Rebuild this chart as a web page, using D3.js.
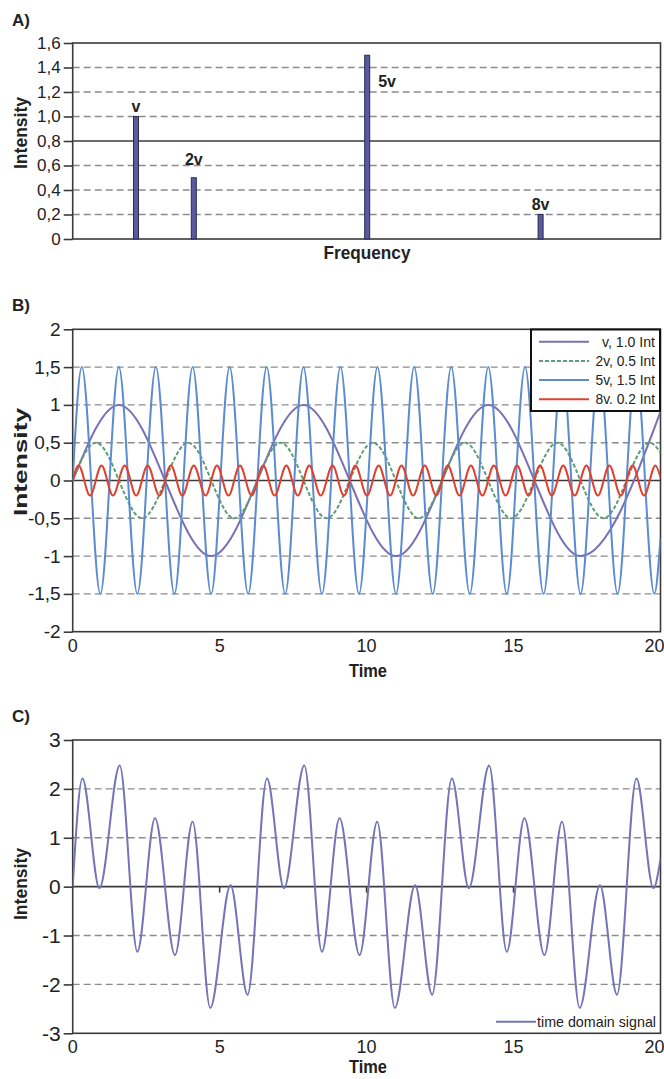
<!DOCTYPE html>
<html>
<head>
<meta charset="utf-8">
<script src="https://cdn.jsdelivr.net/npm/d3@7"></script>
<style>
  body { margin: 0; background: #fff; }
  text { font-family: "Liberation Sans", Arial, sans-serif; fill: #222; }
  .bold { font-weight: bold; }
</style>
</head>
<body>
<svg id="chart" width="664" height="1079"></svg>
<script>
// ---- A) spectrum ----
var specLabels = ["v", "2v", "5v", "8v"];
var specFreq = [1, 2, 5, 8];
var specInt = [1.0, 0.5, 1.5, 0.2];
var specTicks = [0, 0.2, 0.4, 0.6, 0.8, 1.0, 1.2, 1.4, 1.6];

// ---- B) the four components (extrema, plus both ends) ----
var compNames = ["v, 1.0 Int", "2v, 0.5 Int", "5v, 1.5 Int", "8v. 0.2 Int"];
var vT = [0, 1.57, 4.71, 7.85, 11.0, 14.14, 17.28, 20];
var vY = [0, 1, -1, 1, -1, 1, -1, 0.91];
var v2T = [0, 0.79, 2.36, 3.93, 5.5, 7.07, 8.64, 10.21, 11.78, 13.35, 14.92, 16.49, 18.06, 19.63, 20];
var v2Y = [0, .5, -.5, .5, -.5, .5, -.5, .5, -.5, .5, -.5, .5, -.5, .5, .37];
var v5T = [0, 0.31, 0.94, 1.57, 2.2, 2.83, 3.46, 4.08, 4.71, 5.34, 5.97, 6.6, 7.23, 7.85, 8.48, 9.11, 9.74,
           10.37, 11.0, 11.62, 12.25, 12.88, 13.51, 14.14, 14.77, 15.39, 16.02, 16.65, 17.28, 17.91, 18.54, 19.16, 19.79, 20];
var v5Y = [0, 1.5, -1.5, 1.5, -1.5, 1.5, -1.5, 1.5, -1.5, 1.5, -1.5, 1.5, -1.5, 1.5, -1.5, 1.5, -1.5,
           1.5, -1.5, 1.5, -1.5, 1.5, -1.5, 1.5, -1.5, 1.5, -1.5, 1.5, -1.5, 1.5, -1.5, 1.5, -1.5, -0.76];
var v8T = [0, 0.2, 0.59, 0.98, 1.37, 1.77, 2.16, 2.55, 2.95, 3.34, 3.73, 4.12, 4.52, 4.91, 5.3, 5.69, 6.09,
           6.48, 6.87, 7.27, 7.66, 8.05, 8.44, 8.84, 9.23, 9.62, 10.01, 10.41, 10.8, 11.19, 11.58, 11.98, 12.37,
           12.76, 13.16, 13.55, 13.94, 14.33, 14.73, 15.12, 15.51, 15.9, 16.3, 16.69, 17.08, 17.48, 17.87, 18.26,
           18.65, 19.05, 19.44, 19.83, 20];
var v8Y = [0, .2, -.2, .2, -.2, .2, -.2, .2, -.2, .2, -.2, .2, -.2, .2, -.2, .2, -.2,
           .2, -.2, .2, -.2, .2, -.2, .2, -.2, .2, -.2, .2, -.2, .2, -.2, .2, -.2,
           .2, -.2, .2, -.2, .2, -.2, .2, -.2, .2, -.2, .2, -.2, .2, -.2, .2,
           -.2, .2, -.2, .2, .04];

// ---- C) time domain signal (extrema read off the curve) ----
var sigT = [0, 0.33, 0.91, 1.6, 2.2, 2.8, 3.48, 4.08, 4.68, 5.37, 5.95,
            6.61, 7.19, 7.88, 8.48, 9.08, 9.76, 10.36, 10.96, 11.65, 12.23,
            12.9, 13.48, 14.17, 14.77, 15.37, 16.05, 16.65, 17.25, 17.94, 18.52,
            19.18, 19.76, 20];
var sigY = [0, 2.21, -0.03, 2.48, -1.33, 1.4, -1.4, 1.33, -2.48, 0.03, -2.21,
            2.21, -0.03, 2.48, -1.33, 1.4, -1.4, 1.33, -2.48, 0.03, -2.21,
            2.21, -0.03, 2.48, -1.33, 1.4, -1.4, 1.33, -2.48, 0.03, -2.21,
            2.21, -0.03, 0.57];

var timeTicks = [0, 5, 10, 15, 20];
var bTicks = [-2, -1.5, -1, -0.5, 0, 0.5, 1, 1.5, 2];
var cTicks = [-3, -2, -1, 0, 1, 2, 3];

var svg = d3.select("#chart");
var left = 72.7, right = 660.5;
var gridColor = "#8c8c8c", frameColor = "#3a3a3a";
var compColors = ["#7a70b4", "#5e9e72", "#5b8cd0", "#e0412f"];

function comma(d) { return String(d).replace(".", ","); }
function comma1(d) { return d === 0 ? "0" : d3.format(".1f")(d).replace(".", ","); }

function zip(ts, ys) { return ts.map(function (t, i) { return [t, ys[i]]; }); }

// frame, y ticks, grid; returns y scale
function panel(id, top, bottom, domain, ticks, fmt, solid, tickSize) {
    var y = d3.scaleLinear().domain(domain).range([bottom, top]);
    var g = svg.append("g").attr("id", id);
    ticks.forEach(function (d) {
        if (d === domain[0] || d === domain[1]) return;
        var isSolid = solid.indexOf(d) >= 0;
        g.append("line")
            .attr("x1", left).attr("x2", right)
            .attr("y1", y(d)).attr("y2", y(d))
            .attr("stroke", isSolid ? frameColor : gridColor)
            .attr("stroke-width", isSolid ? 1.6 : 1.4)
            .attr("stroke-dasharray", isSolid ? null : "7,4");
    });
    g.append("rect")
        .attr("x", left).attr("y", top)
        .attr("width", right - left).attr("height", bottom - top)
        .attr("fill", "none").attr("stroke", frameColor).attr("stroke-width", 1.6);
    var ax = g.append("g").attr("transform", "translate(" + left + ",0)")
        .call(d3.axisLeft(y).tickValues(ticks).tickFormat(fmt).tickSize(9).tickPadding(3));
    ax.select(".domain").remove();
    ax.selectAll("line").attr("stroke", frameColor).attr("stroke-width", 1.6);
    ax.selectAll("text").attr("font-size", tickSize).attr("fill", "#2a2a2a")
        .attr("font-family", "Liberation Sans, Arial, sans-serif");
    return { y: y, g: g };
}

function title(txt, x, y, size, len, rot) {
    var t = svg.append("text").attr("class", "bold")
        .attr("font-size", size).attr("text-anchor", "middle")
        .attr("textLength", len).attr("lengthAdjust", "spacingAndGlyphs")
        .text(txt);
    if (rot) t.attr("transform", "translate(" + x + "," + y + ") rotate(-90)");
    else t.attr("x", x).attr("y", y);
    return t;
}

function timeAxis(top, bottom, baseline, size) {
    var x = d3.scaleLinear().domain([0, 20]).range([left, right]);
    svg.append("g").selectAll("text").data(timeTicks).join("text")
        .attr("x", function (d) { return d === 20 ? x(d) + 4 : x(d); })
        .attr("y", baseline)
        .attr("text-anchor", function (d) { return d === 20 ? "end" : "middle"; })
        .attr("font-size", size).attr("fill", "#2a2a2a")
        .text(function (d) { return d; });
    return x;
}

// ================= A =================
svg.append("text").attr("class", "bold").attr("x", 12).attr("y", 26).attr("font-size", 17).text("A)");
var pA = panel("pa", 43, 239, [0, 1.6], specTicks, comma1, [0.8], 17);
var fx = d3.scaleLinear().domain([0, 10]).range([78.2, 656.2]);
pA.g.selectAll("rect.bar").data(specFreq).join("rect").attr("class", "bar")
    .attr("x", function (d) { return fx(d) - 2.5; })
    .attr("width", 5)
    .attr("y", function (d, i) { return pA.y(specInt[i]); })
    .attr("height", function (d, i) { return pA.y(0) - pA.y(specInt[i]); })
    .attr("fill", "#5a5a9e").attr("stroke", "#2a2a4c").attr("stroke-width", 1);
var labOff = [[0, -5, "middle"], [0, -13, "middle"], [11, 32, "start"], [0, -5, "middle"]];
pA.g.selectAll("text.lab").data(specLabels).join("text").attr("class", "lab bold")
    .attr("x", function (d, i) { return fx(specFreq[i]) + labOff[i][0]; })
    .attr("y", function (d, i) { return pA.y(specInt[i]) + labOff[i][1]; })
    .attr("text-anchor", function (d, i) { return labOff[i][2]; })
    .attr("font-size", 16)
    .text(function (d) { return d; });
title("Frequency", 367, 259, 19, 87);
title("Intensity", 27, 133, 19, 72, true);

// ================= B =================
svg.append("text").attr("class", "bold").attr("x", 12).attr("y", 311).attr("font-size", 17).text("B)");
var pB = panel("pb", 329.3, 631.7, [-2, 2], bTicks, comma, [0], 19);
var xB = timeAxis(329.3, 631.7, 651.5, 18);
svg.append("clipPath").attr("id", "clipB").append("rect")
    .attr("x", left).attr("y", 329.3).attr("width", right - left).attr("height", 631.7 - 329.3);
var lineB = d3.line().curve(d3.curveMonotoneX)
    .x(function (d) { return xB(d[0]); }).y(function (d) { return pB.y(d[1]); });
var comps = [zip(vT, vY), zip(v2T, v2Y), zip(v5T, v5Y), zip(v8T, v8Y)];
var gB = svg.append("g").attr("clip-path", "url(#clipB)");
gB.selectAll("path").data(comps).join("path")
    .attr("d", lineB).attr("fill", "none")
    .attr("stroke", function (d, i) { return compColors[i]; })
    .attr("stroke-width", 2)
    .attr("stroke-dasharray", function (d, i) { return i === 1 ? "4,2" : null; });
// legend
var lg = svg.append("g");
lg.append("rect").attr("x", 531).attr("y", 329.5).attr("width", 129).attr("height", 81.5)
    .attr("fill", "#fff").attr("stroke", "#111").attr("stroke-width", 2);
compNames.forEach(function (n, i) {
    var yy = 341.7 + i * 19.2;
    lg.append("line").attr("x1", 539).attr("x2", 589).attr("y1", yy).attr("y2", yy)
        .attr("stroke", compColors[i]).attr("stroke-width", 2)
        .attr("stroke-dasharray", i === 1 ? "4,2" : null);
    lg.append("text").attr("x", 655).attr("y", yy + 5).attr("text-anchor", "end")
        .attr("font-size", 15).attr("textLength", i === 0 ? 53 : 59.5).attr("lengthAdjust", "spacingAndGlyphs")
        .text(n);
});
title("Time", 368, 677, 19, 38);
title("Intensity", 27, 462, 18, 108, true);

// ================= C =================
svg.append("text").attr("class", "bold").attr("x", 12).attr("y", 722).attr("font-size", 17).text("C)");
var pC = panel("pc", 740, 1033.3, [-3, 3], cTicks, String, [0], 21);
var xC = timeAxis(740, 1033.3, 1053, 18);
// small ticks on the zero line
svg.append("g").selectAll("line").data(timeTicks.slice(1, 4)).join("line")
    .attr("x1", function (d) { return xC(d); }).attr("x2", function (d) { return xC(d); })
    .attr("y1", pC.y(0)).attr("y2", pC.y(0) + 6)
    .attr("stroke", frameColor).attr("stroke-width", 1.6);
svg.append("clipPath").attr("id", "clipC").append("rect")
    .attr("x", left).attr("y", 740).attr("width", right - left).attr("height", 1033.3 - 740);
var lineC = d3.line().curve(d3.curveMonotoneX)
    .x(function (d) { return xC(d[0]); }).y(function (d) { return pC.y(d[1]); });
svg.append("g").attr("clip-path", "url(#clipC)").append("path")
    .datum(zip(sigT, sigY))
    .attr("d", lineC).attr("fill", "none").attr("stroke", "#7474b6").attr("stroke-width", 2);
svg.append("line").attr("x1", 496).attr("x2", 536).attr("y1", 1021.7).attr("y2", 1021.7)
    .attr("stroke", "#7474b6").attr("stroke-width", 2);
svg.append("text").attr("x", 537).attr("y", 1026.5).attr("font-size", 15)
    .attr("textLength", 119).attr("lengthAdjust", "spacingAndGlyphs").text("time domain signal");
title("Time", 368, 1073, 18, 38);
title("Intensity", 27, 884, 19, 72, true);
</script>
</body>
</html>
